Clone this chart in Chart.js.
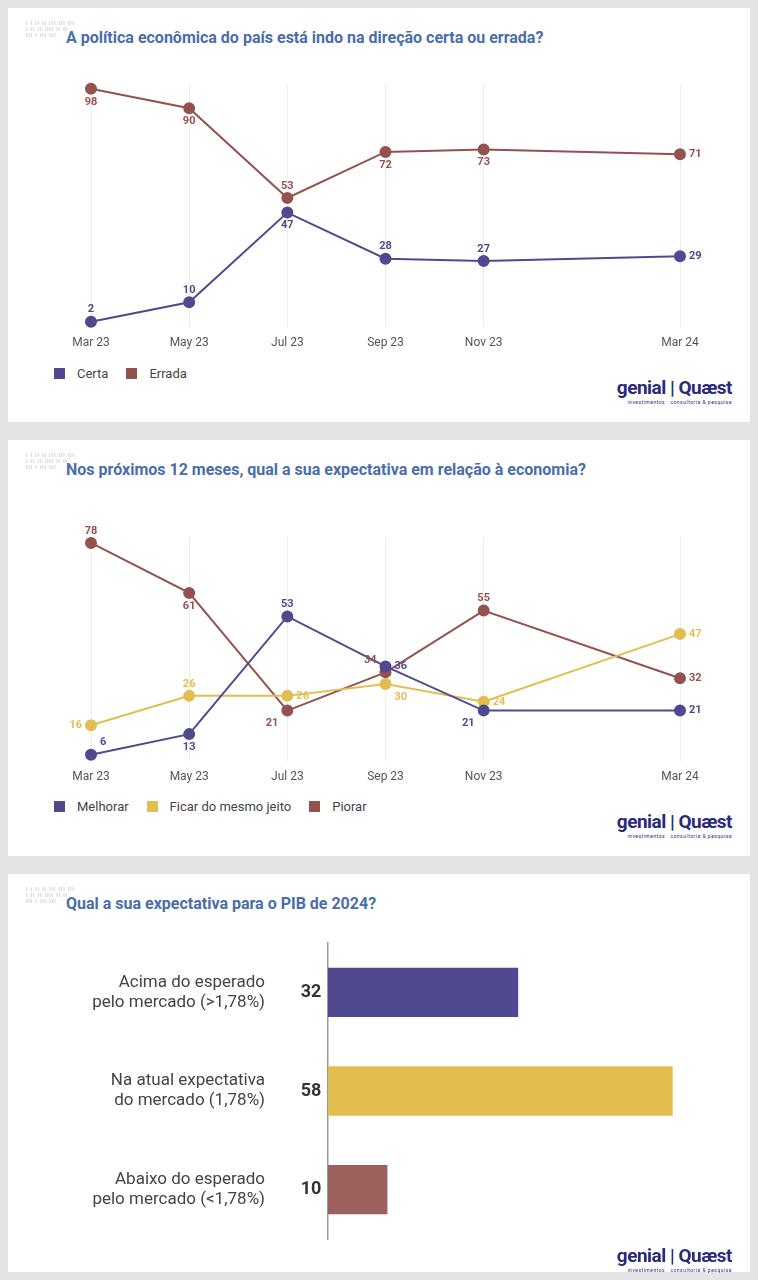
<!DOCTYPE html>
<html>
<head>
<meta charset="utf-8">
<script src="https://cdn.jsdelivr.net/npm/chart.js@4"></script>
<style>
  body { margin:0; width:758px; height:1280px; background:#e4e4e4; font-family:Roboto, sans-serif; position:relative; overflow:hidden; }
  .panel { position:absolute; left:8px; width:742px; background:#fff; }
  .title { position:absolute; left:58px; top:20px; color:#4a6ea8; font-weight:bold; font-size:16px; }
  .deco { position:absolute; left:18px; top:12px; color:#aaa; font-size:5px; line-height:6px; letter-spacing:1px; }
  .legend { position:absolute; left:46px; font-size:13px; color:#444; }
  .legend span { display:inline-block; margin-right:18px; }
  .legend i { display:inline-block; width:11px; height:11px; margin-right:12px; vertical-align:-1px; }
  .logo { position:absolute; right:18px; font-weight:bold; color:#2b2a7c; font-size:19px; letter-spacing:-0.5px; }
  .logo small { display:block; font-size:5px; font-weight:normal; letter-spacing:0.5px; text-align:right; }
  canvas { position:absolute; left:0; }
</style>
</head>
<body>
<div class="panel" style="top:8px;height:414px">
  <div class="deco">I I II II III III III<br>I II II IIII II II<br>III I III III</div>
  <div class="title">A política econômica do país está indo na direção certa ou errada?</div>
  <div style="position:absolute;left:0;top:55px;width:742px;height:296px"><canvas id="c1"></canvas></div>
  <div class="legend" style="top:358px"><span><i style="background:#4f4a8f"></i>Certa</span><span><i style="background:#94524e"></i>Errada</span></div>
  <div class="logo" style="top:368px">genial | Quæst<small>investimentos &nbsp; consultoria &amp; pesquisa</small></div>
</div>
<div class="panel" style="top:440px;height:416px">
  <div class="deco">I I II II III III III<br>I II II IIII II II<br>III I III III</div>
  <div class="title">Nos próximos 12 meses, qual a sua expectativa em relação à economia?</div>
  <div style="position:absolute;left:0;top:60px;width:742px;height:296px"><canvas id="c2"></canvas></div>
  <div class="legend" style="top:359px"><span><i style="background:#4f4a8f"></i>Melhorar</span><span><i style="background:#e3bd4f"></i>Ficar do mesmo jeito</span><span><i style="background:#94524e"></i>Piorar</span></div>
  <div class="logo" style="top:370px">genial | Quæst<small>investimentos &nbsp; consultoria &amp; pesquisa</small></div>
</div>
<div class="panel" style="top:874px;height:398px">
  <div class="deco">I I II II III III III<br>I II II IIII II II<br>III I III III</div>
  <div class="title">Qual a sua expectativa para o PIB de 2024?</div>
  <div style="position:absolute;left:0;top:56px;width:742px;height:325px"><canvas id="c3"></canvas></div>
  <div class="logo" style="top:370px">genial | Quæst<small>investimentos &nbsp; consultoria &amp; pesquisa</small></div>
</div>
<script>
// months since Mar 23
const months = [0, 2, 4, 6, 8, 12];
const monthLabels = ["Mar 23", "May 23", "Jul 23", "Sep 23", "Nov 23", "Mar 24"];

const certa = [2, 10, 47, 28, 27, 29];
const errada = [98, 90, 53, 72, 73, 71];

const melhorar = [6, 13, 53, 36, 21, 21];
const mesmo = [16, 26, 26, 30, 24, 47];
const piorar = [78, 61, 21, 34, 55, 32];

const pibLabels = [["Acima do esperado", "pelo mercado (>1,78%)"], ["Na atual expectativa", "do mercado (1,78%)"], ["Abaixo do esperado", "pelo mercado (<1,78%)"]];
const pibValues = [32, 58, 10];

const PURPLE = "#4f4a8f", BROWN = "#94524e", YELLOW = "#e3bd4f";

function pts(vals) { return vals.map((v, i) => ({ x: months[i], y: v })); }

const pointLabels = {
  id: "pointLabels",
  afterDatasetsDraw(chart) {
    const ctx = chart.ctx;
    chart.data.datasets.forEach((ds, di) => {
      chart.getDatasetMeta(di).data.forEach((p, i) => {
        const pos = ds.labelPos[i];
        let x = p.x, y = p.y, align = "center";
        if (pos.includes("a")) y -= 12;
        if (pos.includes("b")) y += 13;
        if (pos.includes("r")) { x += 9; align = "left"; }
        if (pos.includes("l")) { x -= 9; align = "right"; }
        ctx.save();
        ctx.font = "bold 11px Roboto";
        ctx.fillStyle = ds.borderColor;
        ctx.textAlign = align;
        ctx.textBaseline = "middle";
        ctx.fillText(ds.data[i].y, x, y);
        ctx.restore();
      });
    });
  }
};

function lineOptions(ymin, ymax, pad) {
  return {
    responsive: true, maintainAspectRatio: false, animation: false,
    layout: { padding: pad },
    plugins: { legend: { display: false }, tooltip: { enabled: false } },
    scales: {
      x: {
        type: "linear", min: 0, max: 12,
        afterBuildTicks: axis => { axis.ticks = months.map(m => ({ value: m })); },
        ticks: { callback: v => monthLabels[months.indexOf(v)], color: "#555", font: { size: 12, family: "Roboto" }, padding: 9 },
        grid: { color: "#ececec", drawTicks: false },
        border: { display: false }
      },
      y: { display: false, min: ymin, max: ymax }
    }
  };
}

function lineSet(label, vals, color, labelPos) {
  return { label, data: pts(vals), borderColor: color, backgroundColor: color, borderWidth: 2,
    pointRadius: 5, pointHoverRadius: 5, clip: false, labelPos };
}

new Chart(document.getElementById("c1"), {
  type: "line",
  data: { datasets: [
    lineSet("Certa", certa, PURPLE, ["a", "a", "b", "a", "a", "r"]),
    lineSet("Errada", errada, BROWN, ["b", "b", "a", "b", "b", "r"])
  ] },
  options: lineOptions(0, 100, { top: 21, bottom: 0, left: 83, right: 70 }),
  plugins: [pointLabels]
});

new Chart(document.getElementById("c2"), {
  type: "line",
  data: { datasets: [
    lineSet("Melhorar", melhorar, PURPLE, ["ar", "b", "a", "r", "bl", "r"]),
    lineSet("Ficar do mesmo jeito", mesmo, YELLOW, ["l", "a", "r", "br", "r", "r"]),
    lineSet("Piorar", piorar, BROWN, ["a", "b", "bl", "al", "a", "r"])
  ] },
  options: lineOptions(4, 80, { top: 37, bottom: 3, left: 83, right: 70 }),
  plugins: [pointLabels]
});

const barLabels = {
  id: "barLabels",
  afterDatasetsDraw(chart) {
    const ctx = chart.ctx, left = chart.chartArea.left;
    chart.getDatasetMeta(0).data.forEach((b, i) => {
      ctx.save();
      ctx.textBaseline = "middle";
      ctx.font = "bold 18px Roboto";
      ctx.fillStyle = "#333";
      ctx.textAlign = "center";
      ctx.fillText(pibValues[i], left - 17, b.y);
      ctx.font = "17px Roboto";
      ctx.fillStyle = "#444";
      ctx.textAlign = "right";
      ctx.fillText(pibLabels[i][0], left - 63, b.y - 10);
      ctx.fillText(pibLabels[i][1], left - 63, b.y + 10);
      ctx.restore();
    });
  }
};

new Chart(document.getElementById("c3"), {
  type: "bar",
  data: { labels: pibLabels, datasets: [{ data: pibValues, backgroundColor: [PURPLE, YELLOW, "#9c615c"],
    barPercentage: 0.5, categoryPercentage: 1 }] },
  options: {
    indexAxis: "y", responsive: true, maintainAspectRatio: false, animation: false,
    layout: { padding: { top: 13, bottom: 16, left: 320, right: 0 } },
    plugins: { legend: { display: false }, tooltip: { enabled: false } },
    scales: {
      x: { display: false, min: 0, max: 71 },
      y: { ticks: { display: false }, grid: { display: false, drawTicks: false }, border: { color: "#999", width: 1.5 } }
    }
  },
  plugins: [barLabels]
});
</script>
</body>
</html>
